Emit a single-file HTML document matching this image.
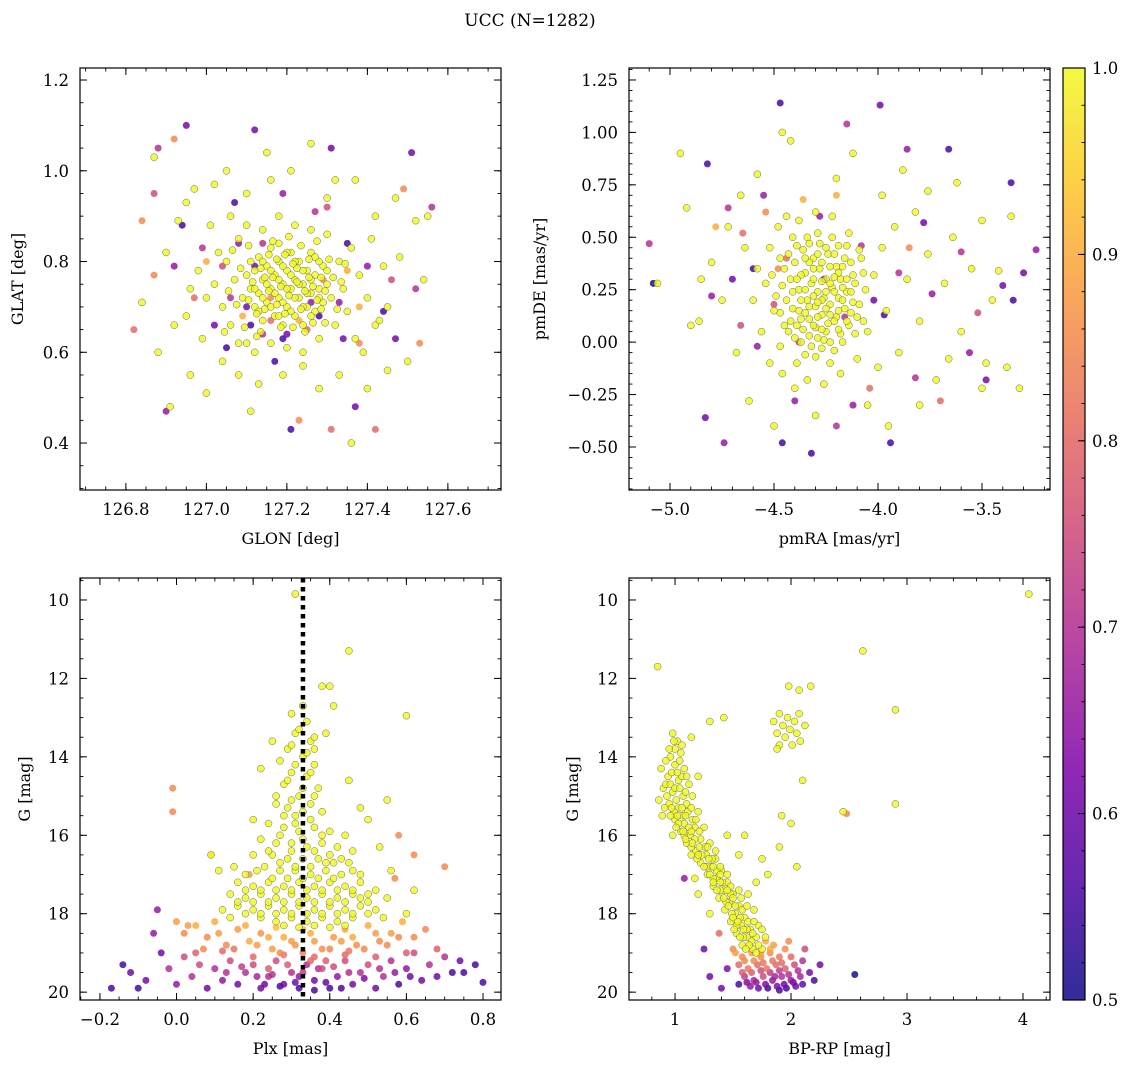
<!DOCTYPE html>
<html><head><meta charset="utf-8"><style>
html,body{margin:0;padding:0;background:#fff}
svg{display:block}
text{font-family:"DejaVu Serif","Liberation Serif",serif;fill:#000}
</style></head><body>
<svg id="chart" width="1136" height="1067" viewBox="0 0 1136 1067" xmlns="http://www.w3.org/2000/svg">
<defs>
<linearGradient id="plasma" x1="0" y1="1" x2="0" y2="0">
<stop offset="0" stop-color="#0d0887"/><stop offset="0.125" stop-color="#4c02a1"/><stop offset="0.25" stop-color="#7e03a8"/><stop offset="0.375" stop-color="#a92395"/><stop offset="0.5" stop-color="#cc4778"/><stop offset="0.625" stop-color="#e66c5c"/><stop offset="0.75" stop-color="#f89540"/><stop offset="0.875" stop-color="#fdc527"/><stop offset="1" stop-color="#f0f921"/>
</linearGradient>
</defs>
<text x="530" y="26" font-size="17" text-anchor="middle">UCC (N=1282)</text>
</svg>
<script>
// ---------- Panel 1: GLON vs GLAT ----------
const p1Members = [[127.11,0.74],[127.12,0.70],[127.12,0.78],[127.13,0.73],[127.13,0.81],[127.14,0.67],[127.14,0.76],[127.15,0.71],[127.15,0.79],[127.16,0.74],[127.16,0.83],[127.17,0.68],[127.17,0.77],[127.18,0.72],[127.18,0.80],[127.19,0.75],[127.19,0.66],[127.20,0.70],[127.20,0.78],[127.21,0.74],[127.21,0.82],[127.22,0.68],[127.22,0.76],[127.23,0.72],[127.23,0.80],[127.24,0.75],[127.24,0.66],[127.25,0.70],[127.25,0.78],[127.26,0.73],[127.26,0.82],[127.27,0.69],[127.27,0.77],[127.28,0.74],[127.29,0.71],[127.29,0.79],[127.30,0.75],[127.10,0.77],[127.09,0.72],[127.31,0.72],
[127.12,0.74],[127.14,0.72],[127.14,0.80],[127.16,0.70],[127.16,0.78],[127.18,0.68],[127.18,0.76],[127.18,0.84],[127.20,0.74],[127.20,0.82],[127.22,0.72],[127.22,0.80],[127.24,0.70],[127.24,0.78],[127.26,0.68],[127.26,0.76],[127.28,0.72],[127.28,0.80],[127.30,0.78],[127.15,0.75],[127.17,0.73],[127.19,0.71],[127.19,0.79],[127.21,0.77],[127.21,0.69],[127.23,0.75],[127.25,0.73],[127.27,0.81],[127.13,0.69],[127.11,0.80],
[127.02,0.75],[127.04,0.70],[127.05,0.80],[127.06,0.66],[127.07,0.76],[127.08,0.62],[127.08,0.85],[127.03,0.82],[127.00,0.72],[126.98,0.78],[126.96,0.74],[126.95,0.68],[126.99,0.63],[127.01,0.88],[127.06,0.90],[127.10,0.62],[127.10,0.88],[127.12,0.60],[127.14,0.87],[127.16,0.62],[127.18,0.90],[127.20,0.61],[127.22,0.88],[127.24,0.60],[127.26,0.87],[127.28,0.63],[127.30,0.86],[127.32,0.66],[127.33,0.80],[127.34,0.74],[127.35,0.69],[127.36,0.83],[127.37,0.63],[127.38,0.77],[127.40,0.72],[127.41,0.85],[127.42,0.66],[127.39,0.60],[127.44,0.79],[127.45,0.70],
[126.84,0.71],[126.87,1.03],[126.88,0.60],[126.90,0.82],[126.91,0.48],[126.92,0.66],[126.93,0.89],[126.96,0.55],[126.97,0.96],[127.00,0.51],[127.02,0.97],[127.04,0.58],[127.05,1.00],[127.08,0.55],[127.10,0.95],[127.13,0.53],[127.16,0.98],[127.19,0.55],[127.21,1.00],[127.24,0.57],[127.26,1.06],[127.28,0.52],[127.30,0.94],[127.33,0.55],[127.36,0.40],[127.37,0.98],[127.40,0.52],[127.42,0.90],[127.45,0.56],[127.48,0.81],[127.50,0.58],[127.52,0.89],[127.54,0.76],[127.55,0.90],[127.47,0.94],[127.32,0.98],[127.15,1.04],[126.95,0.93],[127.11,0.47],[127.43,0.67]];
const p1MembersCore = [[127.105,0.715],[127.115,0.755],[127.125,0.685],[127.135,0.785],[127.145,0.695],[127.155,0.735],[127.165,0.765],[127.175,0.705],[127.185,0.745],[127.195,0.815],[127.205,0.725],[127.215,0.655],[127.225,0.785],[127.235,0.695],[127.245,0.735],[127.255,0.805],[127.265,0.745],[127.275,0.715],[127.285,0.765],[127.295,0.735],[127.305,0.805],[127.315,0.765],[127.135,0.645],[127.165,0.845],[127.205,0.855],[127.245,0.645],[127.275,0.845],[127.105,0.835],[127.085,0.785],[127.075,0.705],[127.325,0.695],[127.335,0.755],[127.195,0.685],[127.225,0.755],[127.155,0.815],[127.185,0.655],[127.265,0.665],[127.295,0.665],[127.125,0.635],[127.235,0.835],[127.215,0.795],[127.175,0.805],[127.145,0.765],[127.255,0.765],[127.285,0.695],[127.095,0.655],[127.345,0.795],[127.065,0.825],[127.055,0.735],[127.045,0.645]];
const p1Field = [[126.82,0.65,0.8],[126.84,0.89,0.85],[126.87,0.77,0.85],[126.87,0.95,0.75],[126.88,1.05,0.7],[126.90,0.47,0.65],[126.92,1.07,0.85],[126.95,1.10,0.6],[126.94,0.88,0.55],[126.92,0.79,0.65],[126.97,0.72,0.8],[126.99,0.83,0.7],[127.02,0.66,0.6],[127.05,0.61,0.55],[127.04,0.79,0.75],[127.07,0.93,0.55],[127.08,0.84,0.65],[127.10,0.70,0.6],[127.12,1.09,0.6],[127.14,0.64,0.7],[127.16,0.67,0.8],[127.17,0.58,0.55],[127.19,0.95,0.65],[127.20,0.64,0.6],[127.21,0.43,0.55],[127.23,0.45,0.85],[127.25,0.65,0.8],[127.27,0.91,0.7],[127.28,0.68,0.55],[127.30,0.92,0.75],[127.31,0.43,0.8],[127.31,1.05,0.6],[127.33,0.71,0.65],[127.34,0.63,0.6],[127.35,0.84,0.55],[127.37,0.48,0.6],[127.38,0.62,0.85],[127.40,0.79,0.65],[127.42,0.43,0.8],[127.44,0.69,0.55],[127.46,0.76,0.75],[127.47,0.63,0.6],[127.49,0.96,0.85],[127.51,1.04,0.6],[127.52,0.74,0.7],[127.53,0.62,0.85],[127.56,0.92,0.7],[127.12,0.79,0.6],[127.16,0.72,0.85],[127.26,0.71,0.65],[127.23,0.67,0.9],[127.19,0.63,0.55],[127.06,0.72,0.7],[127.29,0.76,0.85],[127.14,0.84,0.7],[127.38,0.70,0.9],[127.00,0.80,0.9],[127.09,0.68,0.9],[127.35,0.78,0.9],[127.11,0.66,0.55]];
const p1XTicks = [126.8,127.0,127.2,127.4,127.6];
const p1YTicks = [0.4,0.6,0.8,1.0,1.2];

// ---------- Panel 2: pmRA vs pmDE ----------
const p2Members = [[-4.44,0.20],[-4.42,0.10],[-4.42,0.30],[-4.40,0.02],[-4.40,0.38],[-4.38,0.15],[-4.38,0.25],[-4.36,0.06],[-4.36,0.44],[-4.35,0.33],[-4.34,0.20],[-4.33,0.11],[-4.32,0.28],[-4.32,-0.02],[-4.31,0.40],[-4.30,0.17],[-4.30,0.07],[-4.29,0.24],[-4.28,0.35],[-4.28,0.47],[-4.27,0.13],[-4.26,0.01],[-4.26,0.21],[-4.25,0.30],[-4.24,0.42],[-4.24,0.09],[-4.23,0.18],[-4.22,0.26],[-4.21,-0.04],[-4.20,0.36],[-4.20,0.12],[-4.19,0.21],[-4.18,0.04],[-4.18,0.30],[-4.16,0.16],[-4.16,0.40],[-4.15,0.24],[-4.14,0.08],[-4.12,0.19],[-4.12,0.32],[-4.10,0.12],[-4.46,0.27],[-4.47,0.14],[-4.34,0.50],[-4.22,0.50],[-4.30,-0.07],
[-4.41,0.24],[-4.39,0.08],[-4.37,0.32],[-4.35,0.14],[-4.33,0.38],[-4.33,0.03],[-4.31,0.22],[-4.29,0.12],[-4.29,0.42],[-4.27,0.29],[-4.25,0.16],[-4.25,0.05],[-4.23,0.36],[-4.21,0.24],[-4.21,0.10],[-4.19,0.33],[-4.17,0.20],[-4.17,0.00],[-4.15,0.30],[-4.13,0.14],[-4.37,0.20],[-4.27,0.20],[-4.23,0.28],[-4.31,0.30],
[-4.60,0.20],[-4.58,0.35],[-4.56,0.05],[-4.54,0.28],[-4.52,-0.10],[-4.52,0.45],[-4.50,0.15],[-4.48,0.55],[-4.46,-0.15],[-4.44,0.60],[-4.40,-0.22],[-4.38,0.58],[-4.34,-0.18],[-4.30,0.62],[-4.26,-0.20],[-4.22,0.60],[-4.18,-0.15],[-4.14,0.52],[-4.10,-0.08],[-4.08,0.40],[-4.06,0.25],[-4.05,0.05],[-4.02,0.32],[-4.00,-0.12],[-3.98,0.45],[-3.96,0.15],[-3.92,0.55],[-3.90,-0.05],[-3.86,0.30],[-3.82,0.62],[-3.80,0.10],[-3.76,0.42],[-3.72,-0.18],[-3.68,0.28],[-3.64,0.50],[-3.60,0.05],[-3.55,0.35],[-3.50,-0.22],[-3.45,0.20],[-3.42,0.34],[-3.38,-0.12],
[-4.95,0.90],[-4.92,0.64],[-5.06,0.28],[-4.86,0.10],[-4.80,0.38],[-4.75,0.20],[-4.72,0.55],[-4.68,-0.05],[-4.66,0.70],[-4.62,-0.28],[-4.58,0.80],[-4.50,-0.40],[-4.46,1.00],[-4.42,0.96],[-4.30,-0.35],[-4.20,0.78],[-4.12,0.90],[-4.05,-0.30],[-3.98,0.70],[-3.95,-0.40],[-3.88,0.82],[-3.80,-0.30],[-3.76,0.72],[-3.66,-0.08],[-3.62,0.76],[-3.50,0.58],[-3.48,-0.10],[-3.32,-0.22],[-3.36,0.60],[-4.90,0.08],[-4.64,0.45],[-4.85,0.30]];
const p2MembersCore = [[-4.45,0.35],[-4.43,0.05],[-4.43,0.42],[-4.41,0.16],[-4.39,0.30],[-4.39,0.46],[-4.37,0.00],[-4.37,0.11],[-4.35,0.25],[-4.35,0.40],[-4.33,0.47],[-4.33,0.17],[-4.31,0.08],[-4.31,0.35],[-4.29,0.02],[-4.29,0.19],[-4.27,0.38],[-4.27,0.06],[-4.25,0.24],[-4.25,0.45],[-4.23,0.13],[-4.23,0.00],[-4.21,0.31],[-4.21,0.42],[-4.19,0.15],[-4.19,0.06],[-4.17,0.26],[-4.17,0.36],[-4.15,0.10],[-4.15,0.46],[-4.13,0.24],[-4.13,0.38],[-4.11,0.04],[-4.11,0.28],[-4.09,0.18],[-4.49,0.22],[-4.47,0.40],[-4.45,0.08],[-4.27,-0.03],[-4.35,-0.06],[-4.19,0.46],[-4.41,0.50],[-4.07,0.10],[-4.07,0.33],[-4.39,-0.10],[-4.23,-0.10],[-4.29,0.52],[-4.09,0.44],[-4.47,-0.02],[-4.51,0.32]];
const p2Field = [[-5.10,0.47,0.7],[-5.08,0.28,0.5],[-4.83,-0.36,0.6],[-4.82,0.85,0.55],[-4.80,0.22,0.65],[-4.78,0.55,0.9],[-4.74,-0.48,0.65],[-4.72,0.64,0.7],[-4.70,0.30,0.6],[-4.66,0.08,0.75],[-4.60,0.35,0.55],[-4.58,-0.02,0.65],[-4.54,0.62,0.85],[-4.50,0.18,0.75],[-4.47,1.14,0.55],[-4.46,-0.48,0.55],[-4.44,0.40,0.8],[-4.40,-0.28,0.65],[-4.36,0.68,0.9],[-4.32,-0.53,0.55],[-4.28,0.60,0.65],[-4.20,-0.40,0.7],[-4.15,1.04,0.7],[-4.12,-0.30,0.65],[-4.08,0.46,0.7],[-4.04,-0.22,0.8],[-3.99,1.13,0.6],[-3.97,0.13,0.55],[-3.94,-0.48,0.55],[-3.90,0.33,0.7],[-3.86,0.92,0.65],[-3.82,-0.17,0.7],[-3.78,0.57,0.6],[-3.74,0.23,0.65],[-3.70,-0.28,0.8],[-3.66,0.92,0.55],[-3.60,0.43,0.7],[-3.56,-0.05,0.65],[-3.52,0.14,0.75],[-3.48,-0.18,0.6],[-3.40,0.27,0.6],[-3.36,0.76,0.55],[-3.30,0.33,0.6],[-3.24,0.44,0.65],[-3.35,0.20,0.55],[-4.26,0.30,0.6],[-4.38,0.00,0.75],[-4.16,0.12,0.7],[-4.48,0.35,0.85],[-4.02,0.20,0.6],[-4.55,0.70,0.65],[-4.65,0.52,0.8],[-3.85,0.45,0.85],[-4.20,0.70,0.9]];
const p2XTicks = [-5.0,-4.5,-4.0,-3.5];
const p2YTicks = [-0.5,-0.25,0.0,0.25,0.5,0.75,1.0,1.25];

// ---------- Panel 3: Plx vs G ----------
const p3Members = [[0.30,12.9],[0.34,13.1],[0.31,13.4],[0.35,13.6],[0.29,13.8],[0.33,14.0],[0.36,14.2],[0.30,14.4],[0.34,14.5],[0.28,14.7],[0.37,14.8],[0.32,15.0],[0.35,15.2],[0.29,15.3],[0.31,15.5],[0.38,15.4],[0.26,15.2],[0.27,14.1],[0.39,13.4],[0.33,12.7],
[0.24,15.7],[0.28,15.8],[0.32,15.9],[0.36,15.8],[0.40,15.9],[0.44,16.0],[0.22,16.1],[0.26,16.2],[0.30,16.2],[0.34,16.3],[0.38,16.2],[0.42,16.3],[0.46,16.4],[0.20,16.5],[0.25,16.5],[0.29,16.6],[0.33,16.6],[0.37,16.6],[0.41,16.7],[0.45,16.7],[0.23,16.8],[0.27,16.9],[0.31,16.9],[0.35,17.0],[0.39,16.9],[0.43,17.0],[0.48,17.0],[0.18,17.0],
[0.16,17.2],[0.20,17.3],[0.24,17.2],[0.28,17.3],[0.32,17.2],[0.36,17.3],[0.40,17.2],[0.44,17.3],[0.48,17.2],[0.52,17.4],[0.14,17.5],[0.18,17.6],[0.22,17.5],[0.26,17.6],[0.30,17.5],[0.34,17.6],[0.38,17.5],[0.42,17.6],[0.46,17.5],[0.50,17.7],[0.55,17.6],[0.12,17.9],[0.16,17.8],[0.20,17.9],[0.24,17.8],[0.28,17.9],[0.32,17.8],[0.36,17.9],[0.40,17.8],[0.44,17.9],[0.48,17.8],[0.52,17.9],[0.22,18.1],[0.26,18.2],[0.30,18.1],[0.34,18.2],[0.38,18.1],[0.42,18.2],[0.46,18.1],
[0.31,9.85],[0.45,11.3],[0.38,12.2],[0.40,12.2],[0.41,12.7],[0.60,12.95],[0.36,13.8],[0.45,14.6],[0.50,15.6],[0.55,15.1],[0.22,14.3],[0.20,15.6],[0.09,16.5],[0.11,16.9],[0.15,16.8],[0.53,16.3],[0.56,16.9],[0.62,17.4],[0.60,18.0],[0.25,13.6],[0.48,15.3],[0.26,15.0]];
const p3MembersCore = [[0.32,13.3],[0.36,13.5],[0.30,13.7],[0.34,13.9],[0.31,14.2],[0.35,14.4],[0.29,14.6],[0.33,14.8],[0.30,15.1],[0.36,15.0],[0.33,15.4],[0.28,15.5],[0.35,15.6],[0.31,15.7],[0.38,16.0],[0.27,16.0],[0.33,16.1],[0.30,16.4],[0.36,16.4],[0.40,16.5],[0.24,16.4],[0.43,16.6],[0.27,16.7],[0.31,16.8],[0.35,16.8],[0.39,16.7],[0.21,16.9],[0.46,16.9],[0.29,17.1],[0.33,17.1],[0.37,17.1],[0.41,17.1],[0.25,17.1],[0.22,17.4],[0.26,17.4],[0.30,17.4],[0.34,17.4],[0.38,17.4],[0.42,17.4],[0.46,17.4],[0.18,17.4],[0.50,17.5],[0.16,17.7],[0.20,17.7],[0.24,17.7],[0.28,17.7],[0.32,17.7],[0.36,17.7],[0.40,17.7],[0.44,17.7],[0.48,17.6],[0.18,18.0],[0.22,18.0],[0.26,18.0],[0.30,18.0],[0.34,18.0],[0.38,18.0],[0.42,18.0],[0.46,18.0],[0.50,18.0],[0.14,18.1],[0.54,18.1],[0.28,18.3],[0.32,18.35],[0.36,18.3],[0.40,18.35],[0.44,18.3]];
const p3Field = [[0.00,18.2,0.88],[0.02,18.5,0.85],[0.05,18.3,0.9],[0.08,18.6,0.85],[0.10,18.2,0.9],[0.13,18.8,0.85],[0.16,18.4,0.88],[0.19,18.7,0.9],[0.22,18.5,0.87],[0.25,18.9,0.88],[0.28,18.6,0.9],[0.31,18.8,0.87],[0.35,18.5,0.9],[0.38,18.9,0.86],[0.41,18.6,0.88],[0.44,18.4,0.9],[0.47,18.8,0.86],[0.50,18.3,0.9],[0.53,18.7,0.86],[0.56,18.5,0.88],[0.59,18.2,0.9],[0.62,18.6,0.85],[0.65,18.4,0.85],[0.15,18.9,0.82],[0.45,18.95,0.82],[0.33,18.4,0.92],[0.26,18.35,0.92],[0.58,16.0,0.85],[0.62,16.5,0.85],[0.70,16.8,0.85],[0.09,16.5,0.9],[-0.01,14.8,0.85],[-0.01,15.4,0.85],[0.57,17.1,0.85],[0.19,17.0,0.88],
[-0.17,19.9,0.55],[-0.14,19.3,0.55],[-0.12,19.5,0.6],[-0.10,19.9,0.55],[-0.08,19.7,0.6],[-0.06,18.5,0.65],[-0.04,19.0,0.6],[-0.05,17.9,0.65],[-0.02,19.4,0.7],[0.00,19.8,0.65],[0.02,19.1,0.75],[0.04,19.6,0.7],[0.06,19.3,0.75],[0.08,19.9,0.6],[0.10,19.4,0.7],[0.12,19.7,0.65],[0.14,19.2,0.75],[0.16,19.8,0.6],[0.18,19.5,0.7],[0.20,19.3,0.75],[0.22,19.9,0.6],[0.24,19.6,0.7],[0.26,19.2,0.75],[0.28,19.8,0.6],[0.30,19.5,0.7],[0.32,19.9,0.55],[0.34,19.3,0.7],[0.36,19.7,0.6],[0.38,19.4,0.75],[0.40,19.9,0.55],[0.42,19.6,0.65],[0.44,19.2,0.75],[0.46,19.8,0.6],[0.48,19.5,0.7],[0.50,19.3,0.75],[0.52,19.9,0.6],[0.54,19.6,0.7],[0.56,19.2,0.7],[0.58,19.8,0.55],[0.60,19.4,0.65],[0.62,19.0,0.75],[0.64,19.7,0.6],[0.66,19.3,0.7],[0.68,19.6,0.6],[0.70,19.1,0.7],[0.72,19.5,0.55],[0.74,19.2,0.6],[0.78,19.3,0.55],[0.80,19.75,0.55],[0.75,19.5,0.55],[0.27,19.85,0.55],[0.36,19.95,0.55],
[0.05,19.0,0.78],[0.12,18.95,0.8],[0.20,19.1,0.8],[0.28,19.05,0.82],[0.36,19.1,0.8],[0.44,19.05,0.8],[0.52,19.1,0.78],[0.60,19.0,0.78],[0.68,18.9,0.78],[0.32,19.6,0.65],[0.39,19.2,0.78],[0.24,19.4,0.78]];
const p3FieldDense = [[0.18,18.3,0.9],[0.21,18.8,0.88],[0.24,18.6,0.9],[0.27,19.0,0.85],[0.30,18.7,0.88],[0.33,19.0,0.85],[0.36,18.7,0.88],[0.40,18.9,0.85],[0.43,18.7,0.88],[0.46,18.6,0.9],[0.49,18.9,0.85],[0.52,18.5,0.88],[0.55,18.8,0.85],[0.58,18.6,0.85],[0.11,18.5,0.88],[0.07,18.9,0.85],[0.03,18.3,0.88],[0.29,19.3,0.78],[0.33,19.5,0.72],[0.37,19.4,0.7],[0.41,19.35,0.75],[0.45,19.5,0.7],[0.25,19.55,0.7],[0.21,19.6,0.68],[0.17,19.35,0.72],[0.13,19.5,0.7],[0.49,19.65,0.62],[0.53,19.4,0.7],[0.57,19.5,0.65],[0.31,19.75,0.6],[0.39,19.75,0.58],[0.43,19.9,0.55],[0.23,19.8,0.6],[0.35,19.2,0.8],[0.61,19.6,0.6]];
const p3PlxRef = [0.33];
const p3XTicks = [-0.2,0.0,0.2,0.4,0.6,0.8];
const p3YTicks = [10,12,14,16,18,20];

// ---------- Panel 4: BP-RP vs G ----------
const p4Members = [[0.98,13.4],[1.02,13.6],[1.05,13.9],[0.96,14.0],[1.00,14.2],[1.08,14.3],[0.94,14.5],[1.03,14.6],[1.12,14.7],[0.90,14.8],[0.98,14.9],[1.07,15.0],[1.15,15.0],[0.95,15.2],[1.03,15.3],[1.11,15.4],[1.20,15.4],[1.00,15.6],[1.08,15.7],[1.17,15.8],[1.25,15.8],[1.05,15.9],[1.13,16.0],[1.22,16.1],[1.30,16.2],[1.10,16.2],[1.18,16.4],[1.27,16.5],[1.35,16.6],[1.22,16.7],[1.31,16.8],[1.40,16.9],[1.28,17.0],[1.36,17.1],[1.45,17.2],[1.33,17.3],[1.42,17.4],[1.50,17.5],[1.38,17.6],[1.47,17.7],[1.55,17.8],[1.43,17.9],[1.52,18.0],[1.60,18.1],[1.48,18.2],[1.57,18.3],[1.65,18.4],[1.53,18.5],[1.62,18.6],[1.70,18.6],[1.58,18.8],[1.67,18.9],[1.75,18.9],
[1.00,13.8],[0.97,14.4],[1.06,14.5],[0.93,15.0],[1.01,15.1],[1.10,15.2],[0.99,15.4],[1.06,15.5],[1.15,15.6],[1.03,15.7],[1.12,15.8],[1.08,16.0],[1.17,16.1],[1.26,16.3],[1.14,16.3],[1.23,16.5],[1.32,16.6],[1.19,16.6],[1.27,16.8],[1.36,16.9],[1.33,17.1],[1.41,17.2],[1.39,17.4],[1.48,17.5],[1.44,17.7],[1.52,17.8],[1.49,18.0],[1.56,18.1],[1.53,18.3],[1.62,18.4],[1.59,18.6],[1.66,18.7],[1.72,18.3],[1.68,17.9],[1.63,17.5],[1.78,18.6],[0.88,14.3],[0.86,15.1],
[1.45,16.0],[1.55,16.5],[1.60,16.0],[1.75,16.6],[1.80,17.0],[1.90,16.3],[1.92,15.5],[2.00,15.7],[2.10,14.6],[2.05,16.8],[1.70,17.2],[1.30,13.1],[1.42,13.0],[1.14,13.5],[1.20,14.5],[2.45,15.4],[1.30,18.0],[1.20,17.5],
[1.85,13.1],[1.88,13.4],[1.90,13.7],[1.93,13.2],[1.95,13.5],[1.97,13.0],[1.99,13.3],[2.01,13.7],[2.03,13.1],[2.05,13.4],[2.07,12.9],[2.08,13.6],[1.90,12.9],[1.98,12.2],[2.07,12.3],[2.17,12.2],[2.12,13.2],[1.88,13.8],
[4.05,9.85],[2.62,11.3],[0.85,11.7],[2.90,12.8],[2.90,15.2],[1.17,17.1]];
const p4MembersCore = [[0.92,14.7],[0.96,14.7],[1.00,14.8],[1.04,14.8],[1.09,14.9],[0.91,15.3],[0.97,15.3],[1.06,15.3],[1.14,15.3],[0.96,15.5],[1.02,15.5],[1.09,15.5],[1.18,15.6],[1.01,15.8],[1.07,15.9],[1.14,15.9],[1.21,15.9],[1.09,16.1],[1.15,16.2],[1.21,16.3],[1.28,16.3],[1.14,16.5],[1.20,16.5],[1.29,16.6],[1.25,16.8],[1.33,16.8],[1.39,16.8],[1.30,17.0],[1.39,17.0],[1.33,17.2],[1.39,17.2],[1.48,17.3],[1.36,17.4],[1.45,17.4],[1.42,17.6],[1.50,17.6],[1.57,17.6],[1.46,17.8],[1.58,17.9],[1.50,18.1],[1.54,18.2],[1.63,18.2],[1.51,18.4],[1.59,18.4],[1.67,18.5],[1.56,18.6],[1.64,18.8],[1.72,18.8],[1.61,18.9],[1.70,19.0],[1.04,14.1],[0.99,13.6],[1.06,13.7],[0.95,13.8],[1.02,14.4],[1.10,14.5],[0.92,14.1],[0.89,15.5],[0.98,16.0],[1.35,16.4],[1.45,17.0],[1.55,17.4],[1.62,17.8],[1.68,18.2],[1.75,18.4]];
const p4Field = [[1.50,18.9,0.85],[1.58,19.1,0.85],[1.66,19.0,0.88],[1.74,19.1,0.85],[1.82,19.0,0.85],[1.90,19.1,0.82],[1.55,19.3,0.8],[1.63,19.4,0.82],[1.71,19.3,0.8],[1.79,19.4,0.82],[1.87,19.3,0.8],[1.95,19.4,0.78],[2.03,19.3,0.75],[1.60,19.6,0.72],[1.68,19.7,0.68],[1.76,19.6,0.75],[1.84,19.7,0.65],[1.92,19.6,0.7],[2.00,19.7,0.65],[2.08,19.6,0.68],[2.16,19.5,0.6],[1.72,19.9,0.6],[1.80,19.9,0.55],[1.88,19.85,0.62],[1.96,19.9,0.55],[2.04,19.85,0.6],[1.65,19.85,0.65],[1.85,18.8,0.88],[1.78,18.7,0.9],[1.95,18.9,0.85],[2.10,19.2,0.7],[2.20,19.7,0.55],[2.55,19.55,0.5],[1.30,19.6,0.6],[1.45,19.4,0.62],[1.40,19.9,0.6],[1.25,18.9,0.6],[1.08,17.1,0.65],[1.38,18.5,0.8],[1.55,19.8,0.55],[2.12,18.9,0.75],[2.25,19.3,0.6],[1.98,18.7,0.85],[2.48,15.45,0.85]];
const p4FieldDense = [[1.52,19.0,0.88],[1.60,19.2,0.85],[1.68,19.2,0.85],[1.76,19.25,0.82],[1.84,19.2,0.82],[1.92,19.25,0.8],[2.00,19.1,0.8],[1.58,19.5,0.78],[1.66,19.5,0.78],[1.74,19.45,0.75],[1.82,19.5,0.72],[1.90,19.45,0.72],[1.98,19.55,0.7],[2.06,19.45,0.7],[1.70,19.75,0.65],[1.78,19.8,0.62],[1.86,19.6,0.68],[1.94,19.8,0.6],[2.02,19.75,0.6],[2.10,19.8,0.58],[1.62,19.75,0.62],[1.90,19.95,0.55],[1.82,18.9,0.9],[1.74,19.0,0.9]];
const p4XTicks = [1,2,3,4];
const p4YTicks = [10,12,14,16,18,20];
const cbTicks = [0.5,0.6,0.7,0.8,0.9,1.0];

const NS = 'http://www.w3.org/2000/svg';
const svg = document.getElementById('chart');
function mk(tag, attrs, parent){const e=document.createElementNS(NS,tag);for(const k in attrs)e.setAttribute(k,attrs[k]);(parent||svg).appendChild(e);return e;}
const stops=[[0,[13,8,135]],[0.125,[76,2,161]],[0.25,[126,3,168]],[0.375,[169,35,149]],[0.5,[204,71,120]],[0.625,[230,108,92]],[0.75,[248,149,64]],[0.875,[253,197,39]],[1,[240,249,33]]];
function plasma(p){let t=Math.max(0,Math.min(1,(p-0.5)/0.5));for(let i=1;i<stops.length;i++){if(t<=stops[i][0]){const a=stops[i-1],b=stops[i];const f=(t-a[0])/(b[0]-a[0]);const c=a[1].map((v,j)=>Math.round(v+(b[1][j]-v)*f));return 'rgb('+c.join(',')+')';}}return 'rgb(240,249,33)';}
function fmt(v,d){return (v<0?'\u2212':'')+Math.abs(v).toFixed(d);}

function panel(cfg){
  const g=mk('g',{});
  
  
  const {L,R,T,B,x0,x1,y0,y1}=cfg;
  const sx=v=>L+(v-x0)/(x1-x0)*(R-L);
  const sy=v=>cfg.invert? T+(v-y0)/(y1-y0)*(B-T) : B-(v-y0)/(y1-y0)*(B-T);
  const cp='clip-'+cfg.name;
  const cl=mk('clipPath',{id:cp},g);mk('rect',{x:L,y:T,width:R-L,height:B-T},cl);
  const pts=g.appendChild(document.createElementNS(NS,'g'));
  pts.setAttribute('clip-path','url(#'+cp+')');
  
  
  const all=cfg.field.map(d=>[d[0],d[1],d[2]]).concat(cfg.members.map(d=>[d[0],d[1],1.0]));
  all.sort((a,b)=>a[2]-b[2]);
  all.forEach(d=>{
    const c=mk('circle',{cx:sx(d[0]).toFixed(1),cy:sy(d[1]).toFixed(1),r:3.5,fill:plasma(d[2]),'fill-opacity':0.82,stroke:d[2]>=0.97?'#6b6b4a':'none','stroke-width':0.5},pts);
    
    
  });
  if(cfg.vline){cfg.vline.forEach(v=>{
    const l=mk('line',{x1:sx(v),x2:sx(v),y1:T,y2:B,stroke:'#000','stroke-width':4.5,'stroke-dasharray':'4.5 4.5'},g);
    
    
  });}
  const fr=mk('rect',{x:L,y:T,width:R-L,height:B-T,fill:'none',stroke:'#000','stroke-width':1.2},g);
  
  
  const xs=cfg.xTicks[1]-cfg.xTicks[0], ys=cfg.yTicks[1]-cfg.yTicks[0];
  const xm=xs/cfg.xMinorN, ym=ys/cfg.yMinorN;
  for(let v=cfg.xTicks[0]-xs;v<=x1+1e-9;v+=xm){ if(v<x0)continue; const X=sx(v);
    mk('line',{x1:X,x2:X,y1:B,y2:B-3.5,stroke:'#000','stroke-width':0.9},g);mk('line',{x1:X,x2:X,y1:T,y2:T+3.5,stroke:'#000','stroke-width':0.9},g);}
  for(let v=cfg.yTicks[0]-ys;v<=y1+1e-9;v+=ym){ if(v<y0)continue; const Y=sy(v);
    mk('line',{x1:L,x2:L+3.5,y1:Y,y2:Y,stroke:'#000','stroke-width':0.9},g);mk('line',{x1:R,x2:R-3.5,y1:Y,y2:Y,stroke:'#000','stroke-width':0.9},g);}
  cfg.xTicks.forEach(v=>{const X=sx(v);
    mk('line',{x1:X,x2:X,y1:B,y2:B-7,stroke:'#000','stroke-width':1},g);mk('line',{x1:X,x2:X,y1:T,y2:T+7,stroke:'#000','stroke-width':1},g);
    const t=mk('text',{x:X,y:B+25,'font-size':16.5,'text-anchor':'middle'},g);t.textContent=fmt(v,cfg.xDec);
    
    });
  cfg.yTicks.forEach(v=>{const Y=sy(v);
    mk('line',{x1:L,x2:L+7,y1:Y,y2:Y,stroke:'#000','stroke-width':1},g);mk('line',{x1:R,x2:R-7,y1:Y,y2:Y,stroke:'#000','stroke-width':1},g);
    const t=mk('text',{x:L-11,y:Y+6,'font-size':16.5,'text-anchor':'end'},g);t.textContent=fmt(v,cfg.yDec);
    
    });
  const xl=mk('text',{x:(L+R)/2,y:B+54,'font-size':16,'text-anchor':'middle'},g);xl.textContent=cfg.xLabel;
  
  
  const yl=mk('text',{x:cfg.yLabelX,y:(T+B)/2,'font-size':16,'text-anchor':'middle',transform:'rotate(-90 '+cfg.yLabelX+' '+((T+B)/2)+')'},g);yl.textContent=cfg.yLabel;
  
  
}

panel({name:'glon-glat-panel',L:80,R:501,T:68,B:490,x0:126.686,x1:127.732,y0:0.2965,y1:1.2265,members:p1Members.concat(p1MembersCore),field:p1Field,xTicks:p1XTicks,yTicks:p1YTicks,xMinorN:4,yMinorN:4,xDec:1,yDec:1,xLabel:'GLON [deg]',yLabel:'GLAT [deg]',yLabelX:23});
panel({name:'pm-panel',L:629,R:1050,T:68,B:490,x0:-5.197,x1:-3.173,y0:-0.705,y1:1.307,members:p2Members.concat(p2MembersCore),field:p2Field,xTicks:p2XTicks,yTicks:p2YTicks,xMinorN:5,yMinorN:5,xDec:1,yDec:2,xLabel:'pmRA [mas/yr]',yLabel:'pmDE [mas/yr]',yLabelX:545});
panel({name:'plx-g-panel',L:80,R:501,T:578,B:1000,x0:-0.252,x1:0.847,y0:9.44,y1:20.2,invert:true,members:p3Members.concat(p3MembersCore),field:p3Field.concat(p3FieldDense),vline:p3PlxRef,xTicks:p3XTicks,yTicks:p3YTicks,xMinorN:4,yMinorN:4,xDec:1,yDec:0,xLabel:'Plx [mas]',yLabel:'G [mag]',yLabelX:30});
panel({name:'cmd-panel',L:629,R:1050,T:578,B:1000,x0:0.603,x1:4.233,y0:9.44,y1:20.2,invert:true,members:p4Members.concat(p4MembersCore),field:p4Field.concat(p4FieldDense),xTicks:p4XTicks,yTicks:p4YTicks,xMinorN:5,yMinorN:4,xDec:0,yDec:0,xLabel:'BP-RP [mag]',yLabel:'G [mag]',yLabelX:578});

(function(){
  const g=mk('g',{});
  
  
  const L=1063,R=1085,T=68,B=1000;
  mk('rect',{x:L,y:T,width:R-L,height:B-T,fill:'url(#plasma)','fill-opacity':0.85,stroke:'#000','stroke-width':1.2},g);
  const sy=v=>B-(v-0.5)/0.5*(B-T);
  for(let v=0.5;v<=1.0001;v+=0.02){mk('line',{x1:R,x2:R-3.5,y1:sy(v),y2:sy(v),stroke:'#000','stroke-width':0.9},g);}
  cbTicks.forEach(v=>{const Y=sy(v);mk('line',{x1:R,x2:R-7,y1:Y,y2:Y,stroke:'#000','stroke-width':1},g);
    const t=mk('text',{x:R+7,y:Y+6,'font-size':16.5},g);t.textContent=v.toFixed(1);
    
    });
})();
</script>
</body></html>
